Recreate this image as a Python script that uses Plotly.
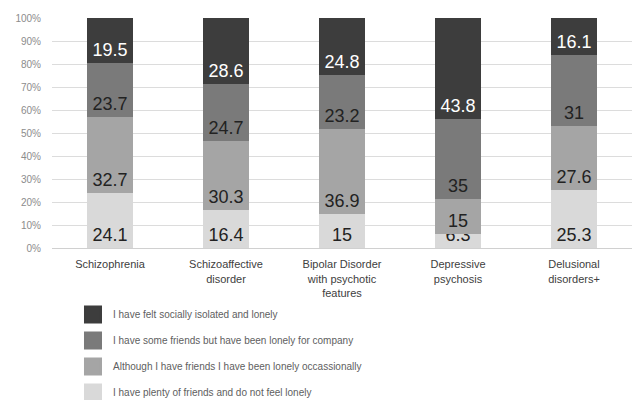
import plotly.graph_objects as go

categories = ["Schizophrenia", "Schizoaffective<br>disorder", "Bipolar Disorder<br>with psychotic<br>features",
              "Depressive<br>psychosis", "Delusional<br>disorders+"]
series_names = ["I have plenty of friends and do not feel lonely",
                "Although I have friends I have been lonely occassionally",
                "I have some friends but have been lonely for company",
                "I have felt socially isolated and lonely"]
plenty = [24.1, 16.4, 15, 6.3, 25.3]
occasionally = [32.7, 30.3, 36.9, 15, 27.6]
some_friends = [23.7, 24.7, 23.2, 35, 31]
isolated = [19.5, 28.6, 24.8, 43.8, 16.1]
series_values = [plenty, occasionally, some_friends, isolated]
colors = ["#d9d9d9", "#a5a5a5", "#7a7a7a", "#3d3d3d"]
text_colors = ["#222222", "#222222", "#222222", "#ffffff"]

fig = go.Figure()
for i, (name, vals) in enumerate(zip(series_names, series_values)):
    fig.add_trace(go.Bar(
        x=categories, y=vals, name=name, showlegend=False,
        marker=dict(color=colors[i], line=dict(width=0)),
        text=[f"{v:g}" for v in vals], textposition="inside",
        insidetextanchor="start", constraintext="none",
        textfont=dict(family="Liberation Sans, Arial", size=18, color=text_colors[i]),
        hoverinfo="skip",
    ))
# legend entries (darkest first, as in the reference)
for i in reversed(range(len(series_names))):
    fig.add_trace(go.Scatter(
        x=[None], y=[None], mode="markers", name=series_names[i], legendgroup=f"g{i}",
        marker=dict(symbol="square", size=16, color=colors[i], line=dict(color=colors[i], width=2)),
    ))

fig.update_layout(
    barmode="stack", bargap=0.6,
    width=632, height=400,
    margin=dict(l=52, r=0, t=18, b=152, autoexpand=False),
    plot_bgcolor="white", paper_bgcolor="white",
    font=dict(family="Liberation Sans, Arial", color="#404040"),
    legend=dict(xref="container", yref="container", x=0.1155, y=0.25,
                xanchor="left", yanchor="top",
                traceorder="grouped", tracegroupgap=7,
                font=dict(size=10, color="#606060"), itemwidth=30,
                bgcolor="rgba(0,0,0,0)"),
    xaxis=dict(tickfont=dict(size=11, color="#404040"), showline=True, linecolor="#d0d0d0",
               ticks="", fixedrange=True, ticklabelstandoff=6, automargin=False),
    yaxis=dict(range=[0, 100], dtick=10, ticksuffix="%", gridcolor="#dcdcdc", gridwidth=1.3,
               tickfont=dict(size=10, color="#8c8c8c"), zeroline=False, ticklabelstandoff=10,
               fixedrange=True, automargin=False),
)
fig.write_html("out.html")
